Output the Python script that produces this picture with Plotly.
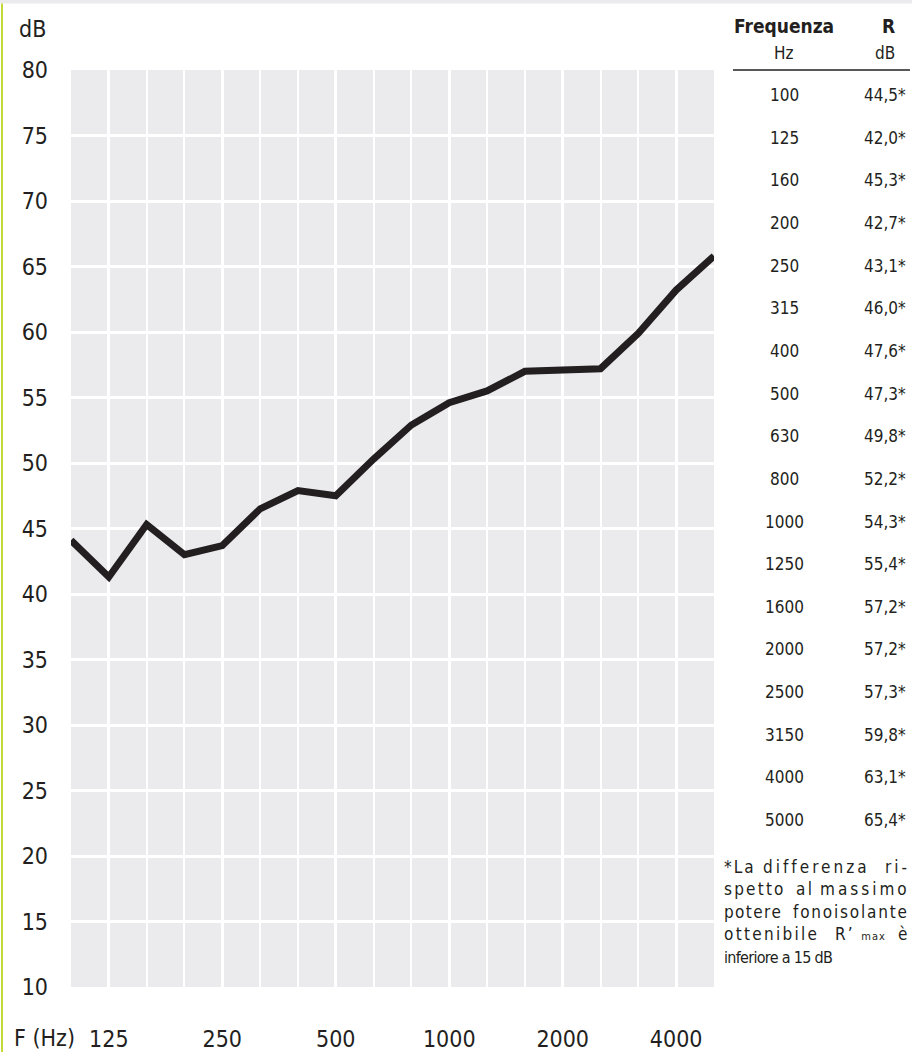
import plotly.graph_objects as go

# ---- data ----
freq_labels = ["100", "125", "160", "200", "250", "315", "400", "500", "630",
               "800", "1000", "1250", "1600", "2000", "2500", "3150", "4000", "5000"]
# values of the drawn curve
curve_db = [44.1, 41.3, 45.3, 43.0, 43.7, 46.5, 47.9, 47.5, 50.3,
            52.9, 54.6, 55.5, 57.0, 57.1, 57.2, 59.9, 63.2, 65.8]
# values printed in the table
table_r = ["44,5*", "42,0*", "45,3*", "42,7*", "43,1*", "46,0*", "47,6*", "47,3*", "49,8*",
           "52,2*", "54,3*", "55,4*", "57,2*", "57,2*", "57,3*", "59,8*", "63,1*", "65,4*"]
x_tick_pos = [1, 4, 7, 10, 13, 16]
x_tick_text = ["125", "250", "500", "1000", "2000", "4000"]
y_ticks = list(range(10, 81, 5))

FONT = "DejaVu Sans Condensed, DejaVu Sans, sans-serif"
INK = "#231f20"
GRAY = "#ebebed"

W, H = 912, 1052
L, R, T, B = 71, 714, 70, 987


def px(x):
    return (x - L) / (R - L)


def py(y):
    return (B - y) / (B - T)


fig = go.Figure()
fig.add_trace(go.Scatter(
    x=list(range(len(freq_labels))), y=curve_db, mode="lines",
    line=dict(color=INK, width=7), hoverinfo="skip", showlegend=False,
    cliponaxis=True,
))

AX = 23
ann = []
# axis captions
ann.append(dict(text="dB", x=px(48), y=py(29), xanchor="right", yanchor="middle",
                font=dict(size=AX, color=INK, family=FONT)))
ann.append(dict(text="F (Hz)", x=px(12), y=py(1038), xanchor="left", yanchor="middle",
                font=dict(size=AX, color=INK, family=FONT)))

# table header
ann.append(dict(text="<b>Frequenza</b>", x=px(784), y=py(26), xanchor="center", yanchor="middle",
                font=dict(size=19, color=INK, family=FONT)))
ann.append(dict(text="<b>R</b>", x=px(897), y=py(26), xanchor="right", yanchor="middle",
                font=dict(size=19, color=INK, family=FONT)))
ann.append(dict(text="Hz", x=px(784), y=py(53), xanchor="center", yanchor="middle",
                font=dict(size=17, color=INK, family=FONT)))
ann.append(dict(text="dB", x=px(897), y=py(53), xanchor="right", yanchor="middle",
                font=dict(size=17, color=INK, family=FONT)))

for i, (f, r) in enumerate(zip(freq_labels, table_r)):
    yy = 95 + 42.65 * i
    ann.append(dict(text=f, x=px(784), y=py(yy), xanchor="center", yanchor="middle",
                    font=dict(size=17, color=INK, family=FONT)))
    ann.append(dict(text=r, x=px(908), y=py(yy), xanchor="right", yanchor="middle",
                    font=dict(size=17, color=INK, family=FONT)))

# footnote: justified block; each word placed at its start (fraction of line width)
# with its own letter spacing; the last word of a line is right-aligned
FN = 17
F_LEFT, F_RIGHT = 722, 909
span = F_RIGHT - F_LEFT
foot = [
    (867, [("*La", 0.0, 2.0), ("differenza", 0.21, 3.0), ("ri-", None, 3.0)]),
    (889, [("spetto", 0.0, 2.2), ("al", 0.385, 2.5), ("massimo", None, 3.0)]),
    (912, [("potere", 0.0, 1.4), ("fonoisolante", None, 1.8)]),
    (934, [("ottenibile", 0.0, 2.3), ("è", None, 0.0)]),
]
for yy, words in foot:
    for w, f0, ls in words:
        last = f0 is None
        ann.append(dict(text=f"<span style='letter-spacing:{ls:.2f}px'>{w}</span>",
                        x=px(F_RIGHT + ls if last else F_LEFT + f0 * span), y=py(yy),
                        xanchor="right" if last else "left", yanchor="middle",
                        font=dict(size=FN, color=INK, family=FONT)))
# R'max (subscript-sized "max")
ann.append(dict(text="<span style='letter-spacing:2px'>R’ </span>"
                     "<span style='font-size:11px;letter-spacing:1px'>max</span>",
                x=px(F_LEFT + 0.595 * span), y=py(934), xanchor="left", yanchor="middle",
                font=dict(size=FN, color=INK, family=FONT)))
ann.append(dict(text="<span style='letter-spacing:-0.7px'>inferiore a 15 dB</span>",
                x=px(F_LEFT), y=py(957), xanchor="left", yanchor="middle",
                font=dict(size=16, color=INK, family=FONT)))

for a in ann:
    a.update(xref="paper", yref="paper", showarrow=False)

shapes = [
    # top gray strip
    dict(type="rect", xref="paper", yref="paper", x0=px(0), x1=px(W), y0=py(3.5), y1=py(0),
         fillcolor=GRAY, line=dict(width=0), layer="below"),
    # left green rule
    dict(type="rect", xref="paper", yref="paper", x0=px(1), x1=px(3), y0=py(H), y1=py(3.5),
         fillcolor="#c4d936", line=dict(width=0), layer="below"),
    # table header underline
    dict(type="line", xref="paper", yref="paper", x0=px(733), x1=px(910), y0=py(70), y1=py(70),
         line=dict(color=INK, width=1.5)),
]

fig.update_layout(
    width=W, height=H,
    margin=dict(l=L, r=W - R, t=T, b=H - B, pad=0, autoexpand=False),
    paper_bgcolor="white", plot_bgcolor=GRAY,
    font=dict(family=FONT, color=INK),
    annotations=ann, shapes=shapes, showlegend=False,
    xaxis=dict(range=[0, 17], tickvals=x_tick_pos, ticktext=x_tick_text, automargin=False,
               showgrid=True, gridcolor="white", gridwidth=2.5, zeroline=False,
               showline=False, ticks="", tickfont=dict(size=AX, color=INK, family=FONT),
               ticklabelstandoff=36,
               minor=dict(tickvals=list(range(18)), showgrid=True, gridcolor="white", gridwidth=2)),
    yaxis=dict(range=[10, 80], tickvals=y_ticks, automargin=False,
               showgrid=True, gridcolor="white", gridwidth=3,
               zeroline=False, showline=False, ticks="",
               tickfont=dict(size=AX, color=INK, family=FONT), ticklabelstandoff=22),
)

fig.write_html("out.html", config={"displayModeBar": False},
               post_script="document.body.style.margin='0';document.body.style.overflow='hidden';")
